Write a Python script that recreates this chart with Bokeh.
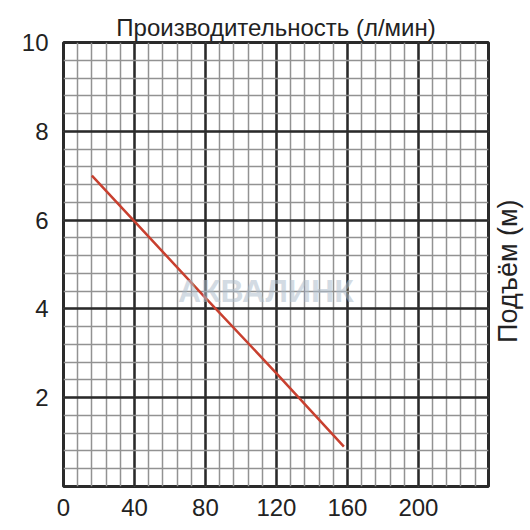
import math
from bokeh.plotting import figure
from bokeh.models import SingleIntervalTicker, Range1d, Label
from bokeh.layouts import row
from bokeh.embed import file_html
from bokeh.resources import INLINE

# Data
flow = [16, 40, 80, 120, 158]          # л/мин
head = [7.0, 5.97, 4.25, 2.55, 0.9]     # м
x_ticks_interval = 40
y_ticks_interval = 2
title_text = "Производительность (л/мин)"
ylabel_text = "Подъём (м)"
watermark = "АКВАЛИНК"

FONT = "Liberation Sans"

p = figure(width=490, height=530, output_backend="svg",
           toolbar_location=None, x_range=Range1d(0, 239.5), y_range=Range1d(0, 10),
           min_border_left=63, min_border_right=2, min_border_top=42, min_border_bottom=44)

p.title.text = title_text
p.title.align = "center"
p.title.text_font = FONT
p.title.text_font_size = "24px"
p.title.text_font_style = "normal"
p.title.text_color = "#222222"
p.title.offset = 0
p.title.standoff = 3

p.xaxis.ticker = SingleIntervalTicker(interval=x_ticks_interval, num_minor_ticks=5)
p.yaxis.ticker = SingleIntervalTicker(interval=y_ticks_interval, num_minor_ticks=5)
p.xgrid.ticker = p.xaxis.ticker
p.ygrid.ticker = p.yaxis.ticker
p.yaxis.major_label_overrides = {0: ""}

for ax in (p.xaxis, p.yaxis):
    ax.axis_line_color = None
    ax.major_tick_line_color = None
    ax.minor_tick_line_color = None
    ax.major_label_text_font = FONT
    ax.major_label_text_font_size = "24px"
    ax.major_label_text_color = "#222222"
p.xaxis.major_label_standoff = 6
p.yaxis.major_label_standoff = 9

for g in (p.xgrid, p.ygrid):
    g.grid_line_color = "#2a2a2a"
    g.grid_line_width = 2.5
    g.minor_grid_line_color = "#929292"
    g.minor_grid_line_width = 1.5

p.outline_line_color = "#2a2a2a"
p.outline_line_width = 3
p.background_fill_color = "white"
p.border_fill_color = "white"

p.add_layout(Label(x=114, y=4.4, text=watermark, text_font=FONT, text_font_size="32px",
                   text_font_style="bold", text_color="#aebdcb", text_alpha=0.55,
                   text_align="center", text_baseline="middle"))

p.line(flow, head, line_color="#c8402f", line_width=2.5)

# narrow side panel carrying the vertical axis title
side = figure(width=40, height=530, output_backend="svg", toolbar_location=None,
              x_range=Range1d(0, 40), y_range=Range1d(0, 530),
              x_axis_location=None, y_axis_location=None,
              min_border=0, outline_line_color=None)
side.grid.visible = False
side.add_layout(Label(x=17, y=257, text=ylabel_text, text_font=FONT,
                      text_font_size="27px", text_color="#222222", angle=math.pi / 2,
                      text_align="center", text_baseline="middle"))

layout = row(p, side)
open("out.html", "w").write(file_html(layout, INLINE))
